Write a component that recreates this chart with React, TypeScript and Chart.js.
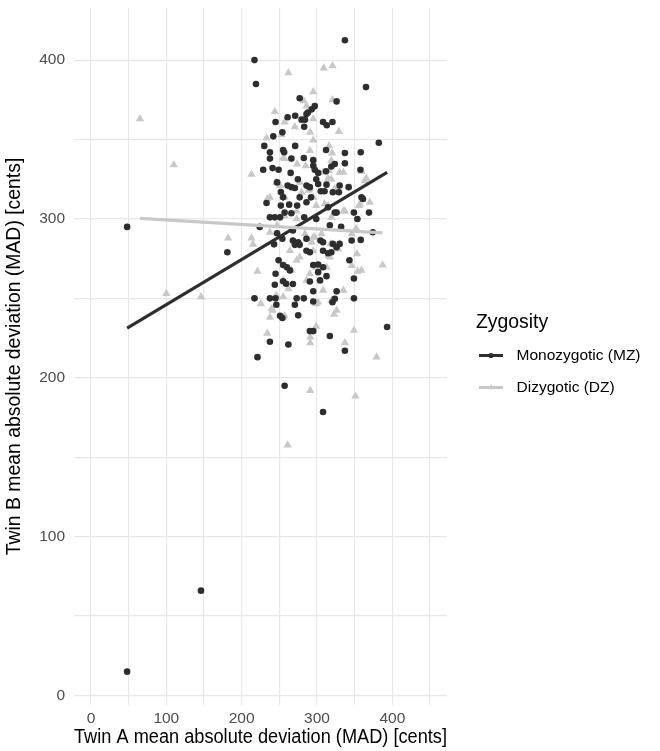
import React, { useEffect, useRef } from 'react';
import { Chart, registerables } from 'chart.js';

Chart.register(...registerables);

// ---- Data ----
const mzX = [48, 146, 48, 181,
  217, 219, 337, 365, 382, 393, 337, 308, 257, 237.5, 262, 221,
  277, 326, 297, 293, 288, 286, 271, 261, 279.5, 284, 245, 308, 313, 320.5, 283, 254, 242, 230, 271, 237.5, 255, 256.4, 312, 337, 358,
  237.5, 266, 282.5, 295, 323.6, 319, 337, 228.6, 241, 249, 265, 295, 297, 301.5, 312, 357.6, 274.6, 299, 247, 261, 266, 270.6, 286, 290.5,
  301.5, 312.6, 330, 342, 252, 255, 277, 292, 305, 310, 321, 329, 359, 361, 233, 252, 263, 273.6, 286, 314.7, 326, 349, 369,
  237.5, 244, 251, 266, 283, 257, 299, 323.6, 353.6, 224, 247, 268, 317, 332, 374, 243, 254, 268, 275, 277, 270.6, 286, 304.6, 308,
  321, 326, 330, 346, 358, 286, 290.5, 308, 314.7, 319, 343, 249, 255, 260, 295, 301.5, 308, 245, 264, 301.5, 312.6, 349, 244, 255,
  259, 268, 290.5, 304, 295, 326, 217, 237.5, 245, 246, 273, 282.5, 270.6, 295, 320.5, 323.6, 349, 251, 254, 275, 290.5, 295, 317];
const mzY = [15, 66, 295, 279,
  400, 385, 412.5, 383, 348, 232, 217, 178.5, 195, 222.7, 221, 213,
  376, 374, 371, 369, 367, 366, 365, 364, 362.5, 362.5, 361, 361, 359, 361, 358, 354.5, 352, 346, 346, 342, 343.4, 342, 343.4, 341.5, 342,
  338, 338, 338.4, 337, 334.6, 333, 335, 331, 332, 331, 329, 333.5, 331, 329, 330, 331, 325, 325, 323, 321, 320, 319.5, 321, 320,
  322, 321.6, 321, 320, 317, 313.6, 313.6, 313.6, 317.4, 317.4, 316.8, 316.8, 313.6, 312.6, 310, 308.4, 309, 308.4, 310.5, 307.3, 304, 304, 304,
  301, 301, 301, 303.6, 301, 304, 300, 304, 300, 295, 291, 292.7, 296, 295, 291.6, 284, 287.5, 286.4, 285.3, 283.7, 283.7, 287.5, 286.4, 285.3,
  284.3, 282.2, 284.3, 286.4, 286.8, 280, 279, 280, 278.4, 279, 274, 274, 271, 269.6, 271, 271.3, 269.6, 265.5, 267.6, 266.5, 264, 262.5, 258.6, 260.8,
  259.2, 259, 260.6, 261.3, 254.5, 254.4, 250, 250, 250, 246, 250, 250, 246, 248, 247.6, 249.8, 250, 239, 237.6, 239.3, 229.4, 229.4, 226.3];

const dzX = [65, 110, 213, 262, 309, 320.5, 295, 244, 282.5, 320.5, 295, 329, 233, 359, 363, 100, 146, 182, 213, 215, 221, 234,
  246, 255, 225.6, 241, 237.5, 257, 234, 261, 299, 326, 322.7, 299, 291, 291, 349, 337, 379, 291, 351, 387, 370, 357, 337, 352,
  354, 359, 353, 346, 318, 306, 297, 287, 293, 335, 308, 301.5, 319, 315, 328, 279.5, 289, 319, 308, 335, 286, 257, 270.6, 291,
  253, 295, 316, 290.5, 255, 257, 320, 319, 273.6, 285, 316, 330, 246, 251, 277, 314.7, 365.6, 290.5, 323.6, 237.5, 257, 295, 310,
  335, 273, 257, 319, 247, 273, 284, 295, 295, 237.5, 264, 277, 317, 330, 346, 299, 314.7, 355.8, 266, 255, 286, 290.5, 273, 299,
  312.6, 262, 240, 255];
const dzY = [363, 334, 328, 392, 395, 396.4, 380, 367.5, 374.4, 375, 363, 355, 351, 330, 324, 253, 251, 288, 288, 284, 267, 312.6,
  252, 251, 246.6, 242.4, 238, 239, 228, 157.6, 246.6, 242.4, 240, 232.4, 225.6, 222, 229.8, 222, 213, 192, 188.4, 271, 310.5, 309.5, 305, 294,
  267, 267.6, 278, 270.7, 284.3, 290.6, 288.5, 287.5, 285.3, 255, 255, 247.6, 248.7, 277, 281, 316.8, 318, 325, 329.3, 329.3, 371, 361, 358, 354.5,
  353, 349.7, 346, 343, 338.4, 338, 341.5, 336.7, 334.6, 333.5, 330.4, 329.3, 323, 321, 323, 325.6, 325.6, 319, 319, 313.6, 313.6, 313.6, 309.5,
  305, 305, 302, 301, 296, 300, 290.6, 288.5, 280, 291.6, 280, 276, 276, 284.3, 290.6, 308.4, 308.4, 308.4, 267.6, 261.3, 261.3, 265.5, 274, 269.6,
  269.6, 256, 243.5, 238];

// Fitted regression lines (end points)
const mzFitX = [48, 393];
const mzFitY = [231.3, 329.3];
const dzFitX = [65, 387];
const dzFitY = [300.4, 291.2];

const xGridValues = [0, 50, 100, 150, 200, 250, 300, 350, 400, 450];
const yGridValues = [0, 50, 100, 150, 200, 250, 300, 350, 400];
const xLabelValues = [0, 100, 200, 300, 400];
const yLabelValues = [0, 100, 200, 300, 400];

const legendTitle = 'Zygosity';
const seriesNames = ['Monozygotic (MZ)', 'Dizygotic (DZ)'];
const xTitle = 'Twin A mean absolute deviation (MAD) [cents]';
const yTitle = 'Twin B mean absolute deviation (MAD) [cents]';

const MZ_COLOR = '#2e2e2e';
const DZ_COLOR = '#c8c8c8';
const GRID = '#e8e8e8';
const FONT = "'Liberation Sans', Arial, Helvetica, sans-serif";

const toPts = (xs: number[], ys: number[]) => xs.map((x, i) => ({ x, y: ys[i] }));

export default function App() {
  const ref = useRef<HTMLCanvasElement>(null);

  useEffect(() => {
    document.body.style.margin = '0';
    const canvas = ref.current!;

    const legendPlugin = {
      id: 'zyLegend',
      afterDraw(chart: any) {
        const ctx = chart.ctx as CanvasRenderingContext2D;
        ctx.save();
        ctx.textBaseline = 'middle';
        ctx.textAlign = 'left';
        ctx.fillStyle = '#000000';
        ctx.font = `19.4px ${FONT}`;
        ctx.fillText(legendTitle, 476, 322.5);

        const rows = [
          { y: 355.5, color: MZ_COLOR, shape: 'circle', name: seriesNames[0] },
          { y: 387.5, color: DZ_COLOR, shape: 'triangle', name: seriesNames[1] },
        ];
        rows.forEach((r) => {
          ctx.strokeStyle = r.color;
          ctx.lineWidth = 3;
          ctx.beginPath();
          ctx.moveTo(479, r.y);
          ctx.lineTo(503, r.y);
          ctx.stroke();
          ctx.fillStyle = r.color;
          ctx.beginPath();
          if (r.shape === 'circle') {
            ctx.arc(491, r.y, 2.6, 0, Math.PI * 2);
          } else {
            const rr = 3.4;
            ctx.moveTo(491, r.y - rr);
            ctx.lineTo(491 + rr * 0.866, r.y + rr * 0.5);
            ctx.lineTo(491 - rr * 0.866, r.y + rr * 0.5);
            ctx.closePath();
          }
          ctx.fill();
          ctx.fillStyle = '#000000';
          ctx.font = `15.5px ${FONT}`;
          ctx.fillText(r.name, 516.5, r.y);
        });
        ctx.restore();
      },
    };

    const gridOpts = {
      color: GRID,
      lineWidth: 1.2,
      drawTicks: false,
    };

    const chart = new Chart(canvas, {
      type: 'scatter',
      data: {
        datasets: [
          {
            label: seriesNames[1] + ' fit',
            data: toPts(dzFitX, dzFitY),
            showLine: true,
            borderColor: DZ_COLOR,
            borderWidth: 3.2,
            pointRadius: 0,
            order: 0,
          },
          {
            label: seriesNames[0] + ' fit',
            data: toPts(mzFitX, mzFitY),
            showLine: true,
            borderColor: MZ_COLOR,
            borderWidth: 3.2,
            pointRadius: 0,
            order: 1,
          },
          {
            label: seriesNames[0],
            data: toPts(mzX, mzY),
            pointStyle: 'circle',
            pointRadius: 3.3,
            pointBorderWidth: 0,
            backgroundColor: MZ_COLOR,
            borderColor: MZ_COLOR,
            order: 2,
          },
          {
            label: seriesNames[1],
            data: toPts(dzX, dzY),
            pointStyle: 'triangle',
            pointRadius: 4.8,
            pointBorderWidth: 0,
            backgroundColor: DZ_COLOR,
            borderColor: DZ_COLOR,
            order: 3,
          },
        ],
      },
      options: {
        animation: false,
        responsive: false,
        events: [],
        layout: { padding: { left: 0, top: 8, right: 213, bottom: 0 } },
        plugins: {
          legend: { display: false },
          tooltip: { enabled: false },
        },
        scales: {
          x: {
            type: 'linear',
            min: -22.5,
            max: 472.5,
            afterBuildTicks: (s: any) => {
              s.ticks = xGridValues.map((v) => ({ value: v }));
            },
            afterFit: (s: any) => {
              s.height = 46;
              s.paddingLeft = 0;
              s.paddingRight = 0;
            },
            grid: gridOpts,
            border: { display: false },
            ticks: {
              padding: 4,
              color: '#4d4d4d',
              font: { family: FONT, size: 15.5 },
              maxRotation: 0,
              autoSkip: false,
              callback: (v: any) => (xLabelValues.includes(Number(v)) ? String(v) : ''),
            },
            title: {
              display: true,
              text: xTitle,
              color: '#000000',
              font: { family: FONT, size: 19.4 },
              padding: { top: 0, bottom: 2.2 },
            },
          },
          y: {
            type: 'linear',
            min: -6,
            max: 432.8,
            afterBuildTicks: (s: any) => {
              s.ticks = yGridValues.map((v) => ({ value: v }));
            },
            afterFit: (s: any) => {
              s.width = 74;
              s.paddingTop = 0;
              s.paddingBottom = 0;
            },
            grid: gridOpts,
            border: { display: false },
            ticks: {
              padding: 9,
              color: '#4d4d4d',
              font: { family: FONT, size: 15.5 },
              autoSkip: false,
              callback: (v: any) => (yLabelValues.includes(Number(v)) ? String(v) : ''),
            },
            title: {
              display: true,
              text: yTitle,
              color: '#000000',
              font: { family: FONT, size: 19.4 },
              padding: { top: 3.4, bottom: 0 },
            },
          },
        },
      },
      plugins: [legendPlugin],
    } as any);

    return () => chart.destroy();
  }, []);

  return (
    <div style={{ position: 'fixed', left: 0, top: 0, width: 660, height: 751, background: '#ffffff' }}>
      <canvas ref={ref} width={660} height={751} style={{ display: 'block' }} />
    </div>
  );
}
